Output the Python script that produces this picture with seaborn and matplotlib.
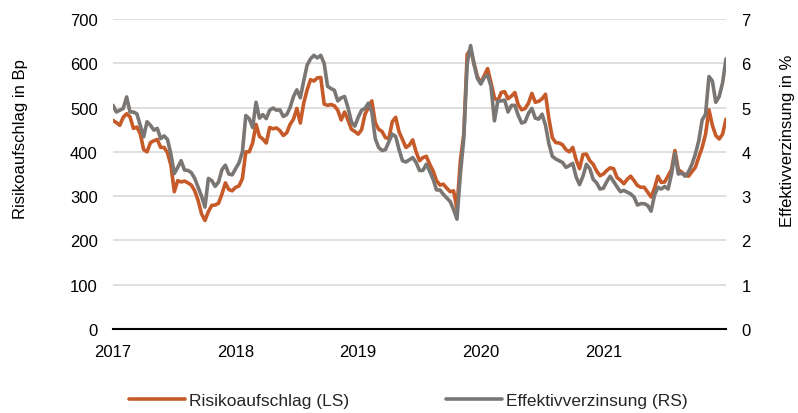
"""
Risikoaufschlag vs. Effektivverzinsung, 2017-2021
"""

import numpy as np
import pandas as pd
import matplotlib
matplotlib.use('Agg')
import matplotlib.pyplot as plt
import matplotlib.dates as mdates
import seaborn as sns

# Risikoaufschlag in Bp (left axis)
spread_bp = [
    471, 466, 460, 478, 486, 479, 453, 456, 441, 405, 400, 421, 425, 428, 410, 410, 398, 370, 310, 335,
    332, 334, 330, 325, 312, 290, 260, 245, 265, 279, 280, 284, 305, 330, 315, 312, 320, 323, 340, 400,
    400, 420, 462, 435, 429, 420, 455, 452, 454, 448, 437, 443, 462, 474, 498, 465, 510, 540, 563, 560,
    567, 568, 508, 505, 507, 504, 494, 472, 490, 472, 451, 446, 440, 450, 485, 500, 515, 466, 451, 446,
    432, 430, 468, 478, 445, 428, 410, 415, 427, 400, 380, 387, 390, 372, 357, 335, 325, 327, 318, 310,
    312, 272, 380, 440, 620, 632, 600, 570, 556, 572, 588, 556, 522, 515, 534, 536, 520, 526, 534, 506,
    495, 498, 510, 532, 512, 514, 520, 530, 475, 432, 421, 420, 416, 405, 400, 410, 382, 362, 394, 395,
    380, 372, 357, 346, 350, 358, 364, 362, 342, 336, 328, 338, 345, 335, 324, 320, 320, 309, 298, 318,
    345, 331, 332, 346, 360, 403, 360, 354, 348, 345, 355, 365, 388, 410, 440, 495, 460, 437, 429, 440,
    474,
]

# Effektivverzinsung in % (right axis)
yield_pct = [
    5.05, 4.90, 4.94, 4.98, 5.24, 4.90, 4.90, 4.86, 4.60, 4.34, 4.68, 4.60, 4.49, 4.53, 4.30, 4.36, 4.28, 3.95, 3.51, 3.65,
    3.80, 3.59, 3.58, 3.53, 3.40, 3.20, 3.00, 2.75, 3.40, 3.35, 3.22, 3.32, 3.60, 3.70, 3.50, 3.48, 3.62, 3.75, 4.00, 4.82,
    4.75, 4.55, 5.12, 4.76, 4.84, 4.75, 4.94, 4.99, 4.94, 4.95, 4.80, 4.84, 5.00, 5.25, 5.40, 5.22, 5.60, 5.96, 6.10, 6.18,
    6.12, 6.18, 6.00, 5.48, 5.43, 5.39, 5.15, 5.22, 5.25, 5.00, 4.68, 4.58, 4.78, 4.94, 4.98, 5.10, 4.90, 4.30, 4.10, 4.03,
    4.05, 4.23, 4.40, 4.35, 4.05, 3.80, 3.77, 3.82, 3.87, 3.76, 3.58, 3.58, 3.72, 3.56, 3.38, 3.14, 3.14, 3.04, 2.96, 2.88,
    2.70, 2.48, 3.50, 4.30, 6.00, 6.40, 5.98, 5.66, 5.53, 5.68, 5.73, 5.48, 4.70, 5.15, 5.15, 5.17, 4.90, 5.05, 5.05, 4.82,
    4.65, 4.68, 4.87, 4.98, 4.76, 4.74, 4.85, 4.60, 4.18, 3.90, 3.84, 3.80, 3.76, 3.65, 3.69, 3.74, 3.43, 3.26, 3.45, 3.72,
    3.62, 3.38, 3.30, 3.16, 3.18, 3.33, 3.45, 3.33, 3.21, 3.10, 3.13, 3.09, 3.05, 2.98, 2.80, 2.83, 2.83, 2.79, 2.66, 3.02,
    3.20, 3.16, 3.22, 3.16, 3.50, 3.97, 3.50, 3.52, 3.45, 3.55, 3.72, 3.95, 4.25, 4.72, 4.85, 5.70, 5.60, 5.12, 5.25, 5.56,
    6.10,
]

year_ticks = [2017, 2018, 2019, 2020, 2021]

ORANGE = '#C65A28'
GREY = '#7A7674'
FS = 12

sns.set_theme(style='white')
plt.rcParams['font.family'] = ['Liberation Sans', 'DejaVu Sans']

dates = pd.date_range('2017-01-01', '2022-01-01', periods=len(spread_bp))
df = pd.DataFrame({'date': dates, 'spread': spread_bp, 'yield': yield_pct})

fig = plt.figure(figsize=(7.98, 4.14), dpi=100)
ax = fig.add_axes([113 / 798, 1 - 330 / 414, 613 / 798, 310 / 414])
ax2 = ax.twinx()

sns.lineplot(data=df, x='date', y='spread', ax=ax, color=ORANGE, linewidth=2.6,
             label='Risikoaufschlag (LS)', legend=False)
sns.lineplot(data=df, x='date', y='yield', ax=ax2, color=GREY, linewidth=2.6,
             label='Effektivverzinsung (RS)', legend=False)

# Axes ranges and ticks
ax.set_ylim(0, 700)
ax.set_yticks(range(0, 701, 100))
ax2.set_ylim(0, 7)
ax2.set_yticks(range(0, 8))
ax.set_xlim(pd.Timestamp('2017-01-01'), pd.Timestamp('2022-01-01'))
ax.set_xticks([pd.Timestamp(f'{y}-01-01') for y in year_ticks])
ax.xaxis.set_major_formatter(mdates.DateFormatter('%Y'))

ax.grid(axis='y', color='#D9D9D9', linewidth=1.2)
ax.set_axisbelow(True)
ax2.grid(False)

for a in (ax, ax2):
    for side in ('top', 'left', 'right', 'bottom'):
        a.spines[side].set_visible(False)
ax.spines['bottom'].set_visible(True)
ax.spines['bottom'].set_color('black')
ax.spines['bottom'].set_linewidth(1.5)
ax.spines['bottom'].set_zorder(5)

ax.tick_params(axis='both', length=0, labelsize=FS, colors='black', pad=11)
ax2.tick_params(axis='y', length=0, labelsize=FS, colors='black', pad=11)

ax.set_xlabel('')
ax.set_ylabel('Risikoaufschlag in Bp', fontsize=FS, color='black')
ax.yaxis.set_label_coords(-0.138, 0.615)
ax2.set_ylabel('Effektivverzinsung in %', fontsize=FS, color='black', rotation=90)
ax2.yaxis.set_label_coords(1.088, 0.61)

# Legend below the plot
h1, l1 = ax.get_legend_handles_labels()
h2, l2 = ax2.get_legend_handles_labels()
fig.legend(h1 + h2, l1 + l2, loc='center', bbox_to_anchor=(0.512, 0.03), ncol=2,
           frameon=False, fontsize=12.5, handlelength=3.2, handletextpad=0.25,
           columnspacing=5.6)

plt.savefig('out.png', dpi=100, facecolor='white')
